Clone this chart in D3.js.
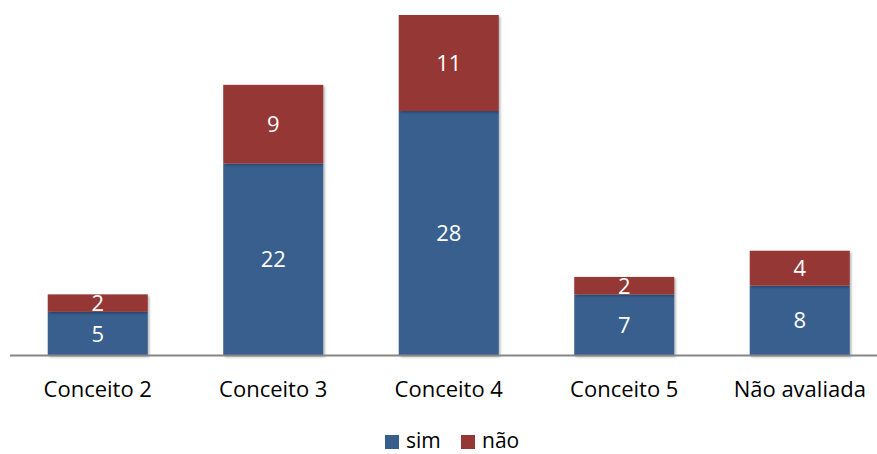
<!DOCTYPE html>
<html><head><meta charset="utf-8">
<script src="https://cdn.jsdelivr.net/npm/d3@7"></script>
<style>body{margin:0;background:#fff}svg{display:block}text{font-family:"Open Sans",sans-serif}</style>
</head><body><svg id="c" width="877" height="454"></svg>
<script>
const categories = ["Conceito 2","Conceito 3","Conceito 4","Conceito 5","Não avaliada"];
const sim = [5,22,28,7,8];
const nao = [2,9,11,2,4];
const seriesNames = ["sim","não"];
const colors = ["#385E8E","#953735"];

const svg = d3.select("#c");
const x = d3.scaleBand().domain(categories).range([10,887.5]).paddingInner(0.43).paddingOuter(0.215);
const y = d3.scaleLinear().domain([0,39]).range([355.5,15]);

const rows = categories.map((c,i)=>({cat:c, sim:sim[i], "não":nao[i]}));
const stack = d3.stack().keys(seriesNames)(rows);

const defs = svg.append("defs");
const f = defs.append("filter").attr("id","sh").attr("x","-10%").attr("y","-10%").attr("width","130%").attr("height","130%");
f.append("feDropShadow").attr("dx",1.5).attr("dy",1.5).attr("stdDeviation",1.2).attr("flood-color","#000").attr("flood-opacity",0.3);

stack.forEach((s,si)=>{
  const g = svg.append("g").attr("fill",colors[si]);
  g.selectAll("rect").data(s).join("rect")
    .attr("x",d=>x(d.data.cat)).attr("width",x.bandwidth())
    .attr("y",d=>y(d[1])).attr("height",d=>y(d[0])-y(d[1]))
    .attr("filter","url(#sh)");
});
stack.forEach((s,si)=>{
  svg.append("g").selectAll("text").data(s).join("text")
    .attr("x",d=>x(d.data.cat)+x.bandwidth()/2)
    .attr("y",d=>(y(d[0])+y(d[1]))/2)
    .attr("dy","0.36em").attr("text-anchor","middle")
    .attr("fill","#fff").attr("font-size",22)
    .text(d=>d[1]-d[0]);
});

const axis = svg.append("g").attr("transform","translate(0,355.5)")
  .call(d3.axisBottom(x).tickSize(0).tickPadding(26));
axis.select(".domain").attr("d","M10,0H877").attr("stroke","#868686").attr("stroke-width",2);
axis.selectAll("text").attr("font-size",22).attr("fill","#000").attr("font-family","'Open Sans',sans-serif");

const leg = svg.append("g");
const legX = [385,461];
seriesNames.forEach((n,i)=>{
  leg.append("rect").attr("x",legX[i]).attr("y",435).attr("width",14).attr("height",14).attr("fill",colors[i]);
  leg.append("text").attr("x",legX[i]+21).attr("y",448).attr("font-size",21).attr("fill","#000").text(n);
});
</script></body></html>
